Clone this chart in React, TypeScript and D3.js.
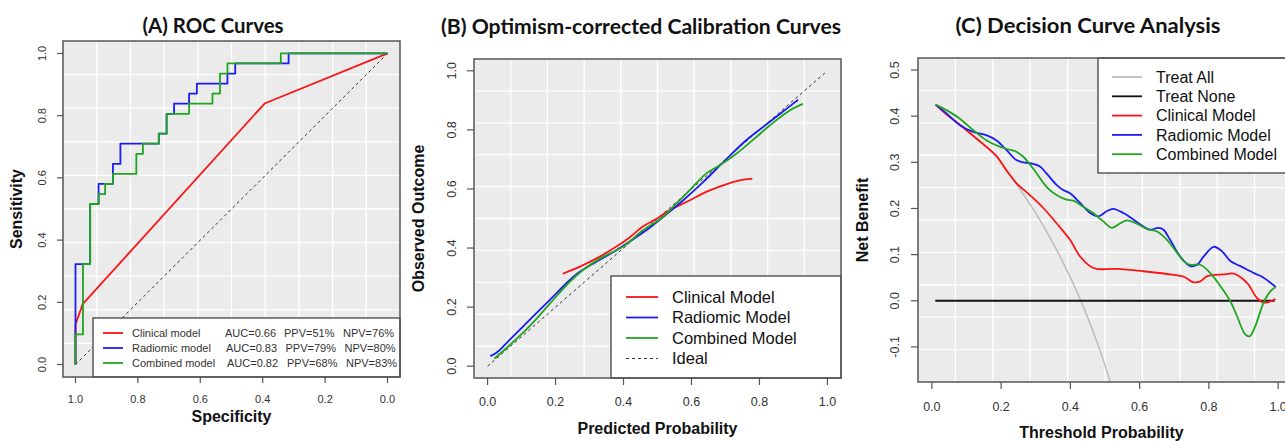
import { useEffect, useRef } from "react";
import * as d3 from "d3";

// ---------- data ----------
// (A) ROC: [specificity, sensitivity]
const rocClinical = [[1, 0], [1, 0.129], [0.977, 0.194], [0.394, 0.839], [0, 1]];
const rocRadiomic = [
  [1, 0], [1, 0.323], [0.953, 0.323], [0.953, 0.516], [0.926, 0.516], [0.926, 0.581],
  [0.88, 0.581], [0.88, 0.645], [0.856, 0.645], [0.856, 0.71], [0.733, 0.71], [0.733, 0.742],
  [0.708, 0.742], [0.708, 0.806], [0.684, 0.806], [0.684, 0.839], [0.636, 0.839], [0.636, 0.871],
  [0.611, 0.871], [0.611, 0.903], [0.513, 0.903], [0.513, 0.935], [0.488, 0.935], [0.488, 0.968],
  [0.317, 0.968], [0.317, 1], [0, 1],
];
const rocCombined = [
  [1, 0], [1, 0.097], [0.976, 0.097], [0.976, 0.323], [0.953, 0.323], [0.953, 0.516],
  [0.926, 0.516], [0.926, 0.548], [0.905, 0.548], [0.905, 0.581], [0.88, 0.581], [0.88, 0.613],
  [0.805, 0.613], [0.805, 0.677], [0.784, 0.677], [0.784, 0.71], [0.733, 0.71], [0.733, 0.742],
  [0.708, 0.742], [0.708, 0.806], [0.636, 0.806], [0.636, 0.839], [0.561, 0.839], [0.561, 0.871],
  [0.537, 0.871], [0.537, 0.935], [0.513, 0.935], [0.513, 0.968], [0.342, 0.968], [0.342, 1], [0, 1],
];
const rocLegend = [
  { name: "Clinical model", auc: "AUC=0.66", ppv: "PPV=51%", npv: "NPV=76%" },
  { name: "Radiomic model", auc: "AUC=0.83", ppv: "PPV=79%", npv: "NPV=80%" },
  { name: "Combined model", auc: "AUC=0.82", ppv: "PPV=68%", npv: "NPV=83%" },
];

// (B) calibration: [predicted, observed]
const calClinical = [
  [0.221, 0.313], [0.27, 0.336], [0.329, 0.37], [0.378, 0.404], [0.417, 0.435], [0.457, 0.473],
  [0.496, 0.498], [0.535, 0.528], [0.594, 0.561], [0.643, 0.59], [0.693, 0.612], [0.742, 0.629], [0.779, 0.635],
];
const calRadiomic = [
  [0.008, 0.034], [0.029, 0.048], [0.064, 0.088], [0.123, 0.156], [0.182, 0.223], [0.241, 0.291],
  [0.27, 0.319], [0.319, 0.353], [0.378, 0.392], [0.417, 0.421], [0.467, 0.46], [0.516, 0.505],
  [0.575, 0.561], [0.634, 0.623], [0.693, 0.69], [0.761, 0.765], [0.82, 0.818], [0.869, 0.862], [0.914, 0.902],
];
const calCombined = [
  [0.02, 0.026], [0.054, 0.06], [0.123, 0.135], [0.182, 0.21], [0.241, 0.285], [0.28, 0.325],
  [0.339, 0.37], [0.398, 0.404], [0.457, 0.46], [0.516, 0.505], [0.555, 0.55], [0.594, 0.595],
  [0.643, 0.652], [0.683, 0.68], [0.732, 0.719], [0.791, 0.776], [0.83, 0.815], [0.889, 0.866], [0.928, 0.888],
];

// (C) decision curves: [threshold, net benefit]
const dcaTreatAll = [
  [0.01, 0.424], [0.07, 0.388], [0.128, 0.352], [0.186, 0.314], [0.215, 0.283], [0.244, 0.253],
  [0.27, 0.224], [0.3, 0.19], [0.35, 0.125], [0.4, 0.05], [0.43, 0.0], [0.45, -0.036],
  [0.48, -0.096], [0.5, -0.14], [0.52, -0.188],
];
const dcaTreatNone = [[0.01, 0], [0.99, 0]];
const dcaClinical = [
  [0.011, 0.425], [0.042, 0.404], [0.07, 0.388], [0.128, 0.352], [0.186, 0.314], [0.215, 0.283],
  [0.244, 0.255], [0.283, 0.229], [0.322, 0.201], [0.36, 0.168], [0.399, 0.132], [0.428, 0.096],
  [0.457, 0.075], [0.476, 0.069], [0.534, 0.069], [0.611, 0.064], [0.679, 0.058], [0.727, 0.052],
  [0.756, 0.04], [0.775, 0.042], [0.794, 0.053], [0.814, 0.056], [0.843, 0.057], [0.872, 0.059],
  [0.91, 0.039], [0.939, 0.006], [0.958, -0.004], [0.978, -0.001], [0.992, 0.004],
];
const dcaRadiomic = [
  [0.011, 0.425], [0.042, 0.406], [0.08, 0.381], [0.119, 0.366], [0.157, 0.359], [0.186, 0.348],
  [0.215, 0.327], [0.244, 0.305], [0.264, 0.3], [0.283, 0.298], [0.312, 0.291], [0.331, 0.276],
  [0.36, 0.251], [0.379, 0.24], [0.399, 0.233], [0.428, 0.212], [0.457, 0.19], [0.481, 0.183],
  [0.505, 0.194], [0.524, 0.199], [0.553, 0.19], [0.582, 0.176], [0.611, 0.161], [0.63, 0.154],
  [0.654, 0.158], [0.669, 0.154], [0.688, 0.132], [0.717, 0.096], [0.746, 0.075], [0.766, 0.078],
  [0.785, 0.096], [0.814, 0.117], [0.838, 0.107], [0.862, 0.086], [0.891, 0.075], [0.93, 0.06],
  [0.958, 0.05], [0.993, 0.03],
];
const dcaCombined = [
  [0.011, 0.425], [0.042, 0.413], [0.08, 0.395], [0.119, 0.37], [0.157, 0.348], [0.196, 0.334],
  [0.225, 0.327], [0.244, 0.323], [0.264, 0.312], [0.292, 0.287], [0.331, 0.247], [0.36, 0.229],
  [0.389, 0.219], [0.408, 0.217], [0.437, 0.204], [0.466, 0.19], [0.495, 0.172], [0.519, 0.158],
  [0.544, 0.168], [0.563, 0.174], [0.592, 0.167], [0.621, 0.155], [0.65, 0.15], [0.679, 0.132],
  [0.708, 0.104], [0.727, 0.086], [0.746, 0.078], [0.775, 0.078], [0.804, 0.06], [0.833, 0.032],
  [0.862, -0.001], [0.881, -0.033], [0.905, -0.073], [0.918, -0.077], [0.934, -0.055], [0.958, -0.004],
  [0.978, 0.021], [0.993, 0.03],
];

const ticks01 = [0, 0.2, 0.4, 0.6, 0.8, 1.0];
const ticksNB = [-0.1, 0, 0.1, 0.2, 0.3, 0.4, 0.5];

const RED = "#fb1414";
const BLUE = "#1c1cf5";
const GREEN = "#1fa51f";
const GREY = "#bdbdbd";
const BOX = "#555";
const SANS = "Arial, 'Liberation Sans', sans-serif";
const TITLE_FONT = "Lato, 'Open Sans', sans-serif";

type Panel = {
  box: { left: number; right: number; top: number; bottom: number };
  xDomain: [number, number];
  yDomain: [number, number];
  xTicks: number[];
  yTicks: number[];
  tickSize: number;
  xTickY: number;
  yTickX: number;
  title: string;
  titleX: number;
  titleY: number;
  titleLen: number;
  xLabel: string;
  xLabelY: number;
  yLabel: string;
  yLabelX: number;
  labelSize: number;
};

const drawFrame = (svg: d3.Selection<SVGSVGElement, unknown, null, undefined>, p: Panel) => {
  const { box } = p;
  const x = d3.scaleLinear().domain(p.xDomain).range([box.left, box.right]);
  const y = d3.scaleLinear().domain(p.yDomain).range([box.bottom, box.top]);
  const g = svg.append("g");
  const w = box.right - box.left;
  const h = box.bottom - box.top;

  g.append("rect")
    .attr("x", box.left).attr("y", box.top).attr("width", w).attr("height", h)
    .attr("fill", "#ebebeb");

  // white grid, 10 divisions of the plot region
  d3.range(1, 10).forEach((i) => {
    g.append("line")
      .attr("x1", box.left + (i * w) / 10).attr("x2", box.left + (i * w) / 10)
      .attr("y1", box.top).attr("y2", box.bottom)
      .attr("stroke", "#fff").attr("stroke-width", 1.3);
    g.append("line")
      .attr("y1", box.top + (i * h) / 10).attr("y2", box.top + (i * h) / 10)
      .attr("x1", box.left).attr("x2", box.right)
      .attr("stroke", "#fff").attr("stroke-width", 1.3);
  });

  const clipId = "clip" + Math.round(box.left);
  svg.append("clipPath").attr("id", clipId)
    .append("rect").attr("x", box.left).attr("y", box.top).attr("width", w).attr("height", h);
  const plot = svg.append("g").attr("clip-path", `url(#${clipId})`);

  // ticks
  p.xTicks.forEach((t) => {
    g.append("line")
      .attr("x1", x(t)).attr("x2", x(t))
      .attr("y1", box.bottom).attr("y2", box.bottom + p.tickSize)
      .attr("stroke", BOX).attr("stroke-width", 1.2);
    g.append("text")
      .attr("x", x(t)).attr("y", p.xTickY)
      .attr("text-anchor", "middle")
      .attr("font-family", SANS).attr("font-size", p.labelSize).attr("fill", "#333")
      .text(t.toFixed(1));
  });
  p.yTicks.forEach((t) => {
    g.append("line")
      .attr("x1", box.left - p.tickSize).attr("x2", box.left)
      .attr("y1", y(t)).attr("y2", y(t))
      .attr("stroke", BOX).attr("stroke-width", 1.2);
    g.append("text")
      .attr("transform", `translate(${p.yTickX},${y(t)}) rotate(-90)`)
      .attr("text-anchor", "middle").attr("dy", "0.35em")
      .attr("font-family", SANS).attr("font-size", p.labelSize).attr("fill", "#333")
      .text(t.toFixed(1));
  });

  // titles
  svg.append("text")
    .attr("x", p.titleX).attr("y", p.titleY)
    .attr("text-anchor", "middle")
    .attr("font-family", TITLE_FONT).attr("font-weight", 700).attr("font-size", 20)
    .attr("textLength", p.titleLen).attr("lengthAdjust", "spacingAndGlyphs")
    .attr("fill", "#111")
    .text(p.title);
  svg.append("text")
    .attr("x", (box.left + Math.min(box.right, 1285)) / 2).attr("y", p.xLabelY)
    .attr("text-anchor", "middle")
    .attr("font-family", SANS).attr("font-weight", 700).attr("font-size", 16).attr("fill", "#111")
    .text(p.xLabel);
  svg.append("text")
    .attr("transform", `translate(${p.yLabelX},${(box.top + box.bottom) / 2}) rotate(-90)`)
    .attr("text-anchor", "middle").attr("dy", "0.35em")
    .attr("font-family", SANS).attr("font-weight", 700).attr("font-size", 16).attr("fill", "#111")
    .text(p.yLabel);

  const border = () =>
    svg.append("rect")
      .attr("x", box.left).attr("y", box.top).attr("width", w).attr("height", h)
      .attr("fill", "none").attr("stroke", BOX).attr("stroke-width", 1.5);

  return { x, y, plot, border };
};

const addPath = (
  g: d3.Selection<SVGGElement, unknown, null, undefined>,
  data: number[][],
  x: d3.ScaleLinear<number, number>,
  y: d3.ScaleLinear<number, number>,
  color: string,
  width: number,
  curve: d3.CurveFactory,
  dash?: string
) => {
  const line = d3.line<number[]>().x((d) => x(d[0])).y((d) => y(d[1])).curve(curve);
  g.append("path")
    .attr("d", line(data))
    .attr("fill", "none")
    .attr("stroke", color)
    .attr("stroke-width", width)
    .attr("stroke-dasharray", dash || null)
    .attr("stroke-linejoin", "round");
};

const buildChart = (ref: SVGSVGElement) => {
  const svg = d3.select(ref);
  svg.selectAll("*").remove();

  // ---------- (A) ROC ----------
  const a = drawFrame(svg, {
    box: { left: 63, right: 400, top: 41, bottom: 377 },
    xDomain: [1.04, -0.04],
    yDomain: [-0.04, 1.04],
    xTicks: ticks01.slice().reverse(),
    yTicks: ticks01,
    tickSize: 6,
    xTickY: 403,
    yTickX: 42,
    title: "(A) ROC Curves",
    titleX: 213,
    titleY: 33,
    titleLen: 141,
    xLabel: "Specificity",
    xLabelY: 422,
    yLabel: "Sensitivity",
    yLabelX: 16,
    labelSize: 11,
  });
  addPath(a.plot, [[1, 0], [0, 1]], a.x, a.y, "#333", 1, d3.curveLinear, "3,3");
  addPath(a.plot, rocClinical, a.x, a.y, RED, 1.8, d3.curveLinear);
  addPath(a.plot, rocRadiomic, a.x, a.y, BLUE, 1.8, d3.curveLinear);
  addPath(a.plot, rocCombined, a.x, a.y, GREEN, 1.8, d3.curveLinear);
  const la = svg.append("g");
  la.append("rect").attr("x", 93).attr("y", 318).attr("width", 307).attr("height", 59)
    .attr("fill", "#fff").attr("stroke", "#333").attr("stroke-width", 1.2);
  [RED, BLUE, GREEN].forEach((c, i) => {
    const yy = 333 + i * 15;
    const r = rocLegend[i];
    la.append("line").attr("x1", 103).attr("x2", 123).attr("y1", yy).attr("y2", yy)
      .attr("stroke", c).attr("stroke-width", 1.8);
    [[132, r.name], [225 + i, r.auc], [284 + i * 1.5, r.ppv], [343 + i * 1.5, r.npv]].forEach(([tx, s]) => {
      la.append("text").attr("x", tx as number).attr("y", yy).attr("dy", "0.35em")
        .attr("font-family", SANS).attr("font-size", 11).attr("fill", "#333")
        .text(s as string);
    });
  });
  a.border();

  // ---------- (B) calibration ----------
  const b = drawFrame(svg, {
    box: { left: 474, right: 841, top: 59, bottom: 378 },
    xDomain: [-0.04, 1.04],
    yDomain: [-0.04, 1.04],
    xTicks: ticks01,
    yTicks: ticks01,
    tickSize: 7,
    xTickY: 406,
    yTickX: 452,
    title: "(B) Optimism-corrected Calibration Curves",
    titleX: 641,
    titleY: 34,
    titleLen: 400,
    xLabel: "Predicted Probability",
    xLabelY: 434,
    yLabel: "Observed Outcome",
    yLabelX: 418,
    labelSize: 12.5,
  });
  addPath(b.plot, [[0, 0], [1, 1]], b.x, b.y, "#333", 1, d3.curveLinear, "3,3");
  addPath(b.plot, calClinical, b.x, b.y, RED, 1.8, d3.curveCatmullRom);
  addPath(b.plot, calRadiomic, b.x, b.y, BLUE, 1.8, d3.curveCatmullRom);
  addPath(b.plot, calCombined, b.x, b.y, GREEN, 1.8, d3.curveCatmullRom);
  const lb = svg.append("g");
  lb.append("rect").attr("x", 611).attr("y", 276).attr("width", 230).attr("height", 102)
    .attr("fill", "#fff").attr("stroke", "#333").attr("stroke-width", 1.2);
  const calNames = ["Clinical Model", "Radiomic Model", "Combined Model", "Ideal"];
  [RED, BLUE, GREEN, "#333"].forEach((c, i) => {
    const yy = 297 + i * 20.5;
    lb.append("line").attr("x1", 626).attr("x2", 658).attr("y1", yy).attr("y2", yy)
      .attr("stroke", c).attr("stroke-width", i === 3 ? 1 : 1.8)
      .attr("stroke-dasharray", i === 3 ? "3,3" : null);
    lb.append("text").attr("x", 672).attr("y", yy).attr("dy", "0.35em")
      .attr("font-family", SANS).attr("font-size", 16.5).attr("fill", "#111")
      .text(calNames[i]);
  });
  b.border();

  // ---------- (C) decision curves ----------
  const c = drawFrame(svg, {
    box: { left: 918, right: 1292, top: 58, bottom: 382 },
    xDomain: [-0.04, 1.04],
    yDomain: [-0.176, 0.526],
    xTicks: ticks01,
    yTicks: ticksNB,
    tickSize: 7,
    xTickY: 411,
    yTickX: 895,
    title: "(C) Decision Curve Analysis",
    titleX: 1088,
    titleY: 33,
    titleLen: 265,
    xLabel: "Threshold Probability",
    xLabelY: 438,
    yLabel: "Net Benefit",
    yLabelX: 862,
    labelSize: 12.5,
  });
  addPath(c.plot, dcaTreatAll, c.x, c.y, GREY, 1.5, d3.curveCatmullRom);
  addPath(c.plot, dcaTreatNone, c.x, c.y, "#111", 1.8, d3.curveLinear);
  addPath(c.plot, dcaClinical, c.x, c.y, RED, 1.8, d3.curveCatmullRom);
  addPath(c.plot, dcaRadiomic, c.x, c.y, BLUE, 1.8, d3.curveCatmullRom);
  addPath(c.plot, dcaCombined, c.x, c.y, GREEN, 1.8, d3.curveCatmullRom);
  const lc = svg.append("g");
  lc.append("rect").attr("x", 1098).attr("y", 58).attr("width", 194).attr("height", 115)
    .attr("fill", "#fff").attr("stroke", "#333").attr("stroke-width", 1.2);
  const dcaNames = ["Treat All", "Treat None", "Clinical Model", "Radiomic Model", "Combined Model"];
  [GREY, "#111", RED, BLUE, GREEN].forEach((col, i) => {
    const yy = 77 + i * 19.3;
    lc.append("line").attr("x1", 1112).attr("x2", 1142).attr("y1", yy).attr("y2", yy)
      .attr("stroke", col).attr("stroke-width", 1.8);
    lc.append("text").attr("x", 1156).attr("y", yy).attr("dy", "0.35em")
      .attr("font-family", SANS).attr("font-size", 16).attr("fill", "#111")
      .text(dcaNames[i]);
  });
  c.border();
};

export default function App() {
  const ref = useRef<SVGSVGElement>(null);
  useEffect(() => {
    if (ref.current) buildChart(ref.current);
  }, []);
  return (
    <div>
      <svg
        ref={ref}
        width={1285}
        height={441}
        style={{ position: "absolute", left: 0, top: 0, background: "#fff" }}
      />
    </div>
  );
}
